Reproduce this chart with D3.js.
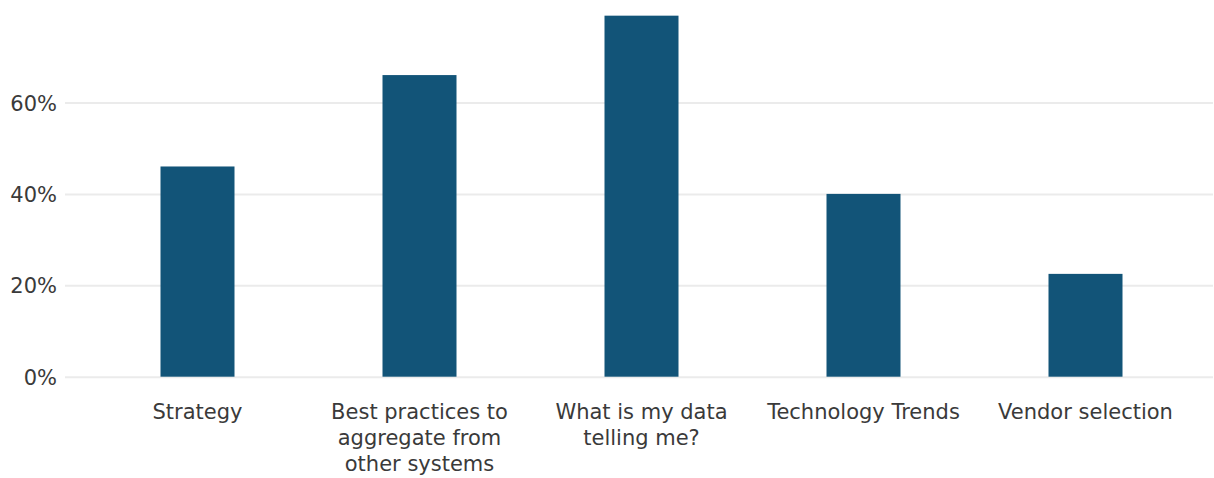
<!DOCTYPE html>
<html>
<head>
<meta charset="utf-8">
<script src="https://cdn.jsdelivr.net/npm/d3@7"></script>
<style>
  html, body { margin: 0; padding: 0; background: #fff; }
  svg { display: block; }
  text { font-family: "DejaVu Sans", Verdana, sans-serif; fill: #3a3a3a; }
</style>
</head>
<body>
<svg id="chart" width="1214" height="478"></svg>
<script>
// Survey topics and share of respondents
const categories = [
  "Strategy",
  "Best practices to aggregate from other systems",
  "What is my data telling me?",
  "Technology Trends",
  "Vendor selection"
];
const values = [0.46, 0.66, 0.79, 0.40, 0.225];
const yTicks = [0, 0.2, 0.4, 0.6];

const svg = d3.select("#chart");
const FONT = "'DejaVu Sans', Verdana, sans-serif";
const FONT_SIZE = 21;

const x = d3.scaleBand()
  .domain(categories)
  .range([86.5, 1196.5])
  .paddingInner(2 / 3)
  .paddingOuter(1 / 3);

const y = d3.scaleLinear()
  .domain([0, 0.8])
  .range([376.7, 11.1]);

// Horizontal gridlines with percentage labels
const yAxis = d3.axisLeft(y)
  .tickValues(yTicks)
  .tickFormat(d3.format(".0%"))
  .tickSize(-(1213 - 65))
  .tickPadding(8);

const gy = svg.append("g")
  .attr("transform", "translate(65,0)")
  .call(yAxis);
gy.select(".domain").remove();
gy.selectAll(".tick line").attr("stroke", "#ebebeb").attr("stroke-width", 2);
gy.selectAll(".tick text")
  .attr("font-size", FONT_SIZE)
  .attr("fill", "#3a3a3a")
  .attr("x", -8)
  .attr("dy", "0.36em")
  .style("font-family", FONT);

// Bars
svg.append("g")
  .selectAll("rect")
  .data(values)
  .join("rect")
  .attr("x", (d, i) => x(categories[i]))
  .attr("y", d => y(d))
  .attr("width", x.bandwidth())
  .attr("height", d => y(0) - y(d))
  .attr("fill", "#125478");

// Category labels, wrapped to fit under each bar slot
const xAxis = d3.axisBottom(x).tickSize(0).tickPadding(0);
const gx = svg.append("g").call(xAxis);
gx.select(".domain").remove();

const maxWidth = 215, lineHeight = 26, firstBaseline = 419;
gx.selectAll(".tick text").each(function(label) {
  const t = d3.select(this)
    .attr("font-size", FONT_SIZE)
    .attr("fill", "#3a3a3a")
    .attr("y", null)
    .attr("dy", null)
    .style("font-family", FONT)
    .text(null);
  const words = label.split(" ");
  let line = [];
  let lineNo = 0;
  let tspan = t.append("tspan").attr("x", 0).attr("y", firstBaseline);
  for (const w of words) {
    line.push(w);
    tspan.text(line.join(" "));
    if (tspan.node().getComputedTextLength() > maxWidth && line.length > 1) {
      line.pop();
      tspan.text(line.join(" "));
      line = [w];
      lineNo++;
      tspan = t.append("tspan")
        .attr("x", 0)
        .attr("y", firstBaseline + lineNo * lineHeight)
        .text(w);
    }
  }
});
</script>
</body>
</html>
